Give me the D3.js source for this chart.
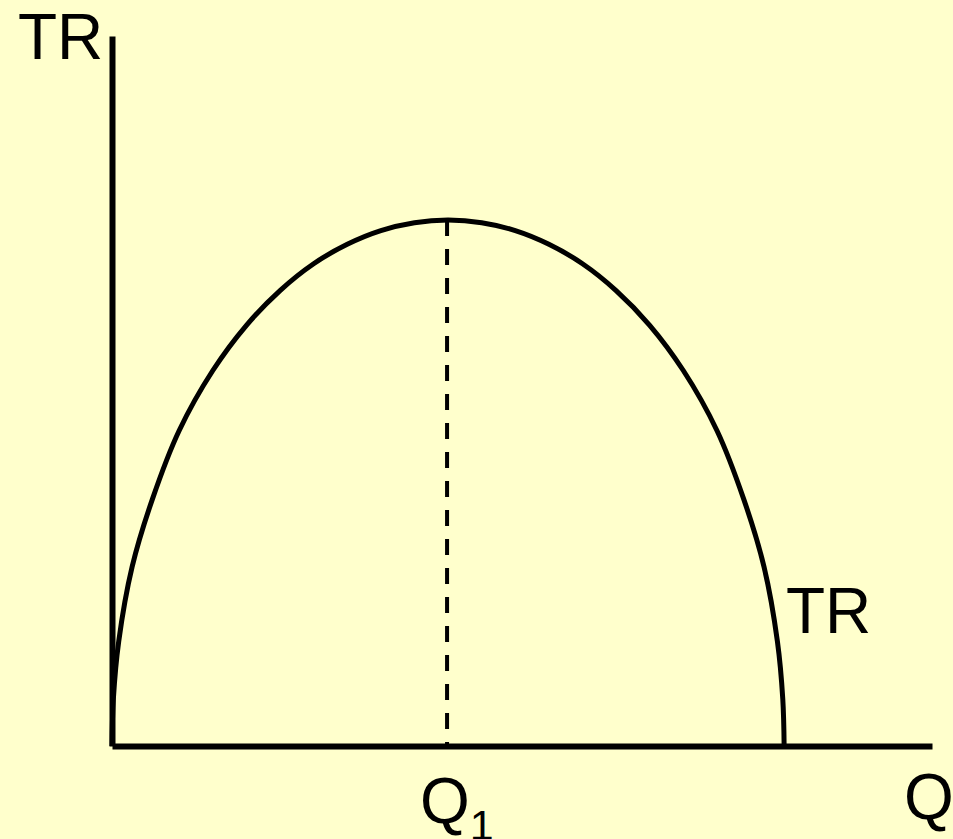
<!DOCTYPE html>
<html>
<head>
<meta charset="utf-8">
<script src="https://cdn.jsdelivr.net/npm/d3@7"></script>
<style>
  html, body { margin: 0; padding: 0; background: #ffffcc; }
  svg { display: block; }
</style>
</head>
<body>
<div class="chart"></div>
<script>
// quantity and total revenue
var qValues  = [0, 0.02, 0.1, 0.3, 0.6, 1, 1.5, 2, 2.5, 3, 3.5, 4, 4.5, 5,
                5.5, 6, 6.5, 7, 7.5, 8, 8.5, 9, 9.4, 9.7, 9.9, 9.98, 10]
var trValues = [0, 8.9, 19.9, 34.1, 46.9, 60, 71.4, 80, 86.6, 91.7, 95.4, 98, 99.5, 100,
                99.5, 98, 95.4, 91.7, 86.6, 80, 71.4, 60, 46.9, 34.1, 19.9, 8.9, 0]
var q1 = 5          // output where TR is at its maximum
var qMax = 12.2     // end of Q axis
var trMax = 135     // top of TR axis

var axisLabels = { y: "TR", x: "Q", curve: "TR", mark: "Q", markSub: "1" }

var width = 953, height = 839

var svg = d3.select(".chart")
    .append("svg")
    .attr("width", width)
    .attr("height", height)

svg.append("rect")
    .attr("width", width)
    .attr("height", height)
    .style("fill", "#ffffcc")

var x = d3.scaleLinear().domain([0, qMax]).range([112, 932])
var y = d3.scaleLinear().domain([0, trMax]).range([746, 36])

// axes, no ticks
var gx = svg.append("g")
    .attr("transform", "translate(0," + y(0) + ")")
    .call(d3.axisBottom(x).tickValues([]).tickSizeOuter(0))
var gy = svg.append("g")
    .attr("transform", "translate(" + x(0) + ",0)")
    .call(d3.axisLeft(y).tickValues([]).tickSizeOuter(0))

svg.selectAll(".domain")
    .style("stroke", "black")
    .style("stroke-width", 6)

// dashed line down from the top of the curve
var peak = d3.max(trValues)
svg.append("line")
    .attr("x1", x(q1) - 1)
    .attr("y1", y(peak))
    .attr("x2", x(q1) - 1)
    .attr("y2", y(0))
    .style("stroke", "black")
    .style("stroke-width", 4)
    .style("stroke-dasharray", "16,13")

// TR curve
var points = qValues.map((q, i) => [q, trValues[i]])
var line = d3.line()
    .x(d => x(d[0]))
    .y(d => y(d[1]))
    .curve(d3.curveCatmullRom.alpha(0.5))

svg.append("path")
    .datum(points)
    .attr("d", line)
    .style("fill", "none")
    .style("stroke", "black")
    .style("stroke-width", 5)

// labels
function label(tx, ty, t) {
    return svg.append("text")
        .attr("x", tx)
        .attr("y", ty)
        .text(t)
        .style("font-size", "64px")
        .attr("font-family", "'Liberation Sans', Arial, sans-serif")
        .attr("fill", "black")
}

label(18, 59, axisLabels.y)
label(786, 633, axisLabels.curve)
label(904, 819, axisLabels.x)

var qt = label(420, 823, axisLabels.mark)
qt.append("tspan")
    .attr("dy", 17)
    .style("font-size", "43px")
    .text(axisLabels.markSub)
</script>
</body>
</html>
